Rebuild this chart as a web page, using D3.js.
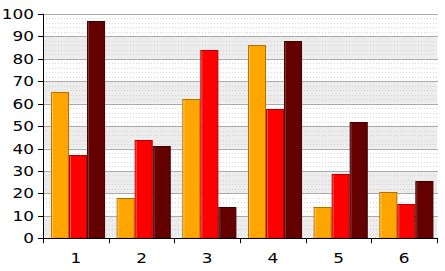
<!DOCTYPE html>
<html>
<head>
<meta charset="utf-8">
<script src="https://cdn.jsdelivr.net/npm/d3@7"></script>
<style>
  body { margin: 0; background: #fff; }
  svg text { font-family: "DejaVu Sans", Verdana, sans-serif; }
</style>
</head>
<body>
<svg id="chart" width="445" height="271"></svg>
<script>
// data
var categories = ['1', '2', '3', '4', '5', '6'];
var seriesNames = ['a', 'b', 'c'];
var seriesA = [65, 18, 62, 86, 14, 20.5];
var seriesB = [37, 44, 84, 57.5, 28.5, 15.5];
var seriesC = [97, 41, 14, 88, 52, 25.5];
var yTicks = [0, 10, 20, 30, 40, 50, 60, 70, 80, 90, 100];

var fills   = ['#ffa500', '#ff0000', '#640000'],
    borders = ['#b07000', '#b00000', '#3a0000'],
    lights  = ['#ffc850', '#ff5050', '#8c3030'];

var plotLeft = 43, plotRight = 437, plotTop = 13.8, plotBottom = 238.3;

var svg = d3.select('#chart');

var y = d3.scaleLinear().domain([0, 100]).range([plotBottom, plotTop]);
var xEdge = d3.scaleLinear().domain([0, categories.length]).range([plotLeft, plotRight]);
var x0 = d3.scaleBand().domain(categories).range([plotLeft, plotRight]);
var x1 = d3.scaleBand().domain(seriesNames).range([8, x0.bandwidth() - 3.6]);

// background bands
var bands = d3.range(0, 100, 20);
svg.append('g').selectAll('rect')
    .data(bands)
    .enter().append('rect')
    .attr('x', plotLeft)
    .attr('width', plotRight - plotLeft)
    .attr('y', d => y(d + 10))
    .attr('height', d => y(d) - y(d + 10))
    .attr('fill', '#ececec');

// minor dotted grid
var minor = d3.range(0, 100, 2).filter(d => d % 10 != 0);
svg.append('g').selectAll('line')
    .data(minor)
    .enter().append('line')
    .attr('x1', plotLeft).attr('x2', plotRight)
    .attr('y1', d => Math.round(y(d)) + 0.5)
    .attr('y2', d => Math.round(y(d)) + 0.5)
    .attr('stroke', '#d4d4d4')
    .attr('stroke-dasharray', '1,2');

// major grid
svg.append('g').selectAll('line')
    .data(yTicks.slice(1))
    .enter().append('line')
    .attr('x1', plotLeft).attr('x2', plotRight + 1)
    .attr('y1', d => Math.round(y(d)) + 0.5)
    .attr('y2', d => Math.round(y(d)) + 0.5)
    .attr('stroke', '#aaaaaa');

// bars
var rows = categories.map((c, i) => ({cat: c, vals: [seriesA[i], seriesB[i], seriesC[i]]}));

var groups = svg.append('g').selectAll('g')
    .data(rows)
    .enter().append('g')
    .attr('transform', d => 'translate(' + x0(d.cat) + ',0)');

var bars = groups.selectAll('g')
    .data(d => d.vals.map((v, k) => ({s: seriesNames[k], k: k, v: v})))
    .enter().append('g');

bars.append('rect')
    .attr('x', d => x1(d.s) + 0.5)
    .attr('y', d => Math.round(y(d.v)) + 0.5)
    .attr('width', x1.bandwidth() - 1)
    .attr('height', d => plotBottom - Math.round(y(d.v)) - 0.5)
    .attr('fill', d => fills[d.k])
    .attr('stroke', d => borders[d.k]);

bars.append('line')
    .attr('x1', d => x1(d.s) + 1.5)
    .attr('x2', d => x1(d.s) + 1.5)
    .attr('y1', d => Math.round(y(d.v)) + 1)
    .attr('y2', plotBottom)
    .attr('stroke', d => lights[d.k]);

// y axis
var yAxis = svg.append('g');
yAxis.append('line')
    .attr('x1', plotLeft + 0.5).attr('x2', plotLeft + 0.5)
    .attr('y1', plotTop).attr('y2', plotBottom)
    .attr('stroke', '#000');
yAxis.selectAll('line.tick')
    .data(yTicks)
    .enter().append('line')
    .attr('class', 'tick')
    .attr('x1', plotLeft - 5).attr('x2', plotLeft)
    .attr('y1', d => Math.round(y(d)) + 0.5)
    .attr('y2', d => Math.round(y(d)) + 0.5)
    .attr('stroke', '#000');
yAxis.selectAll('text')
    .data(yTicks)
    .enter().append('text')
    .attr('transform', d => 'translate(34,' + (y(d) + 5) + ') scale(1.25,1)')
    .attr('text-anchor', 'end')
    .attr('font-size', 13.5)
    .text(d => d);

// x axis
var xAxis = svg.append('g');
xAxis.append('line')
    .attr('x1', plotLeft).attr('x2', plotRight + 1)
    .attr('y1', Math.round(plotBottom) + 0.5).attr('y2', Math.round(plotBottom) + 0.5)
    .attr('stroke', '#000');
xAxis.selectAll('line.tick')
    .data(d3.range(categories.length + 1))
    .enter().append('line')
    .attr('class', 'tick')
    .attr('x1', d => Math.round(xEdge(d)) + 0.5)
    .attr('x2', d => Math.round(xEdge(d)) + 0.5)
    .attr('y1', plotBottom).attr('y2', plotBottom + 5)
    .attr('stroke', '#000');
xAxis.selectAll('text')
    .data(categories)
    .enter().append('text')
    .attr('transform', d => 'translate(' + (x0(d) + x0.bandwidth() / 2) + ',263) scale(1.25,1)')
    .attr('text-anchor', 'middle')
    .attr('font-size', 13.5)
    .text(d => d);
</script>
</body>
</html>
